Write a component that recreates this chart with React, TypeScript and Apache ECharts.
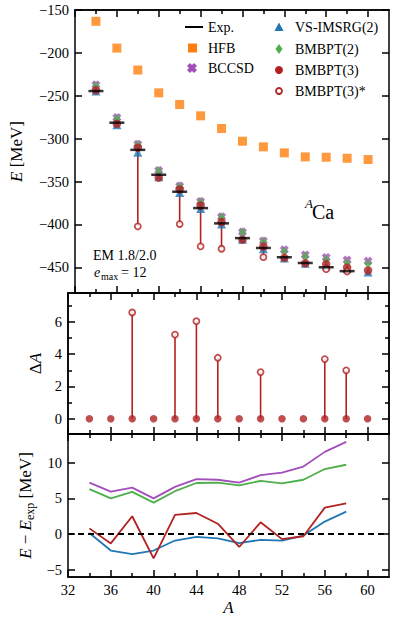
import React, { useEffect, useRef } from 'react';
import * as echarts from 'echarts';

// ---------- data ----------
const massNumbers = [34, 36, 38, 40, 42, 44, 46, 48, 50, 52, 54, 56, 58, 60];
const expEnergy = [-244.5, -281.4, -313.1, -342.1, -361.9, -381.0, -398.8, -416.0, -427.5, -438.3, -445.0, -450.0, -454.5, null];
const hfbEnergy = [-163.2, -194.4, -220.0, -246.6, -260.2, -273.4, -288.2, -303.0, -309.6, -316.6, -321.3, -321.7, -322.9, -324.4];
const bccsdEnergy = [-237.3, -275.45, -306.6, -337.1, -355.3, -373.3, -391.2, -408.8, -419.25, -429.7, -435.55, -438.5, -441.6, -442.8];
const vsImsrg2Energy = [-244.35, -283.7, -315.9, -344.4, -362.8, -381.4, -399.4, -417.25, -428.3, -439.2, -445.2, -448.25, -451.35, -455.5];
const bmbpt2Energy = [-238.2, -276.4, -307.2, -337.7, -355.9, -373.85, -391.6, -409.2, -420.05, -431.2, -437.4, -440.9, -444.8, -445.9];
const bmbpt3Energy = [-243.7, -282.7, -310.6, -345.5, -359.2, -378.05, -397.35, -417.8, -425.85, -439.0, -445.3, -446.3, -450.2, -453.7];
const bmbpt3StarEnergy = [null, null, -402.3, null, -399.6, -425.6, -428.4, null, -438.2, null, null, -452.2, -454.9, null];
const deltaA3 = [0, 0, 0, 0, 0, 0, 0, 0, 0, 0, 0, 0, 0, 0];
const deltaA3Star = [null, null, 6.59, null, 5.22, 6.05, 3.78, null, 2.89, null, null, 3.70, 3.0, null];

const xMajorTicks = [32, 36, 40, 44, 48, 52, 56, 60];
const xMinorTicks = [34, 38, 42, 46, 50, 54, 58];
const eTicks = [-450, -400, -350, -300, -250, -200, -150];
const dAMajorTicks = [0, 2, 4, 6];
const dAMinorTicks = [1, 3, 5, 7];
const diffTicks = [-5, 0, 5, 10];

// ---------- style ----------
const FONT = 'Liberation Serif, DejaVu Serif, serif';
const LW = 1.5;
const ORANGE = '#ff7f0e';
const BLUE = '#1f77b4';
const GREEN = '#4daf4a';
const PURPLE = '#a24fba';
const RED = '#b22222';
const X_PATH = 'path://M3,0 L5,2 L7,0 L10,3 L8,5 L10,7 L7,10 L5,8 L3,10 L0,7 L2,5 L0,3 Z';

const fmt = (v: number) => `{t|${v < 0 ? '\u2212' + Math.abs(v) : String(v)}}`;
const tickRich = { t: { fontFamily: FONT, fontSize: 14.5, color: '#000' } };

function xAx(grid: number, pos: string, values: number[], len: number, label: boolean, extra: any = {}) {
  return {
    type: 'value', gridIndex: grid, position: pos, min: 32, max: 62,
    axisLine: { show: true, onZero: false, lineStyle: { color: '#000', width: LW } },
    axisTick: { show: true, inside: true, length: len, customValues: values, lineStyle: { color: '#000', width: LW } },
    axisLabel: { show: label, customValues: values, formatter: fmt, rich: tickRich, color: '#000', fontFamily: FONT, fontSize: 14.5, margin: 5 },
    splitLine: { show: false },
    ...extra,
  };
}

function yAx(grid: number, pos: string, min: number, max: number, values: number[], len: number, label: boolean, extra: any = {}) {
  return {
    type: 'value', gridIndex: grid, position: pos, min, max,
    axisLine: { show: true, onZero: false, lineStyle: { color: '#000', width: LW } },
    axisTick: { show: true, inside: true, length: len, customValues: values, lineStyle: { color: '#000', width: LW } },
    axisLabel: { show: label, customValues: values, formatter: fmt, rich: tickRich, color: '#000', fontFamily: FONT, fontSize: 14.5, margin: 6, showMinLabel: true, showMaxLabel: true },
    splitLine: { show: false },
    ...extra,
  };
}

const pairs = (ys: (number | null)[]) =>
  massNumbers.map((a, i) => (ys[i] == null ? null : [a, ys[i]])).filter((p) => p !== null);

const diffs = (ys: (number | null)[]) =>
  massNumbers
    .map((a, i) => (expEnergy[i] == null || ys[i] == null ? null : [a, (ys[i] as number) - (expEnergy[i] as number)]))
    .filter((p) => p !== null);

const stemData = (base: (number | null)[], tip: (number | null)[]) =>
  massNumbers.map((a, i) => (tip[i] == null || base[i] == null ? null : [a, base[i], tip[i]])).filter((p) => p !== null);

const stemRender = (params: any, api: any) => {
  const p1 = api.coord([api.value(0), api.value(1)]);
  const p2 = api.coord([api.value(0), api.value(2)]);
  return { type: 'line', shape: { x1: p1[0], y1: p1[1], x2: p2[0], y2: p2[1] }, style: { stroke: RED, lineWidth: 1.6 } };
};

const nameStyle = (rich: any) => ({ color: '#000', fontFamily: FONT, fontSize: 17, rich });
const richBase = {
  i: { fontFamily: FONT, fontSize: 17, fontStyle: 'italic', color: '#000' },
  n: { fontFamily: FONT, fontSize: 17, color: '#000' },
  sub: { fontFamily: FONT, fontSize: 12, color: '#000', padding: [9, 0, 0, 0] },
};

const legendText = (x: number, y: number, t: string) => ({
  type: 'text', x, y,
  style: { text: t, fill: '#000', font: `14px ${FONT}`, verticalAlign: 'middle' },
});

function buildOption() {
  const xAxis = [] as any[];
  for (let g = 0; g < 3; g++) {
    xAxis.push(
      xAx(g, 'bottom', xMajorTicks, 7, g === 2, g === 2 ? {
        name: '{i|A}', nameLocation: 'middle', nameGap: 22, nameTextStyle: nameStyle(richBase),
      } : {}),
    );
    xAxis.push(xAx(g, 'bottom', xMinorTicks, 4, false));
    xAxis.push(xAx(g, 'top', xMajorTicks, 7, false));
    xAxis.push(xAx(g, 'top', xMinorTicks, 4, false));
  }
  const yAxis = [
    yAx(0, 'left', -480, -150, eTicks, 7, true, {
      name: '{i|E} [MeV]', nameLocation: 'middle', nameRotate: 90, nameGap: 50, nameTextStyle: nameStyle(richBase),
    }),
    yAx(0, 'right', -480, -150, eTicks, 7, false),
    yAx(1, 'left', -0.95, 7.8, dAMajorTicks, 7, true, {
      name: '{n|\u0394}{i|A}', nameLocation: 'middle', nameRotate: 90, nameGap: 22, nameTextStyle: nameStyle(richBase),
    }),
    yAx(1, 'right', -0.95, 7.8, dAMajorTicks, 7, false),
    yAx(1, 'left', -0.95, 7.8, dAMinorTicks, 4, false),
    yAx(1, 'right', -0.95, 7.8, dAMinorTicks, 4, false),
    yAx(2, 'left', -6, 14, diffTicks, 7, true, {
      name: '{i|E} \u2212 {i|E}{sub|exp} [MeV]', nameLocation: 'middle', nameRotate: 90, nameGap: 31, nameTextStyle: nameStyle(richBase),
    }),
    yAx(2, 'right', -6, 14, diffTicks, 7, false),
  ];

  const lineSeries = (name: string, ys: (number | null)[], color: string) => ({
    name, type: 'line', xAxisIndex: 8, yAxisIndex: 6, data: diffs(ys), showSymbol: false, symbol: 'none',
    lineStyle: { color, width: 1.8 }, itemStyle: { color },
  });

  const series = [
    // top panel
    { type: 'custom', xAxisIndex: 0, yAxisIndex: 0, data: stemData(bmbpt3Energy, bmbpt3StarEnergy), renderItem: stemRender, encode: { x: 0, y: [1, 2] }, z: 1 },
    { name: 'HFB', type: 'scatter', xAxisIndex: 0, yAxisIndex: 0, data: pairs(hfbEnergy), symbol: 'rect', symbolSize: 9, itemStyle: { color: ORANGE } },
    { name: 'VS-IMSRG(2)', type: 'scatter', xAxisIndex: 0, yAxisIndex: 0, data: pairs(vsImsrg2Energy), symbol: 'triangle', symbolSize: 9, itemStyle: { color: BLUE } },
    { name: 'BCCSD', type: 'scatter', xAxisIndex: 0, yAxisIndex: 0, data: pairs(bccsdEnergy), symbol: X_PATH, symbolSize: 9, itemStyle: { color: PURPLE } },
    { name: 'BMBPT(2)', type: 'scatter', xAxisIndex: 0, yAxisIndex: 0, data: pairs(bmbpt2Energy), symbol: 'diamond', symbolSize: [7, 10], itemStyle: { color: GREEN } },
    { name: 'BMBPT(3)', type: 'scatter', xAxisIndex: 0, yAxisIndex: 0, data: pairs(bmbpt3Energy), symbol: 'circle', symbolSize: 8.5, itemStyle: { color: RED } },
    { name: 'BMBPT(3)*', type: 'scatter', xAxisIndex: 0, yAxisIndex: 0, data: pairs(bmbpt3StarEnergy), symbol: 'circle', symbolSize: 6, itemStyle: { color: '#fff', borderColor: RED, borderWidth: 1.8 } },
    { name: 'Exp.', type: 'scatter', xAxisIndex: 0, yAxisIndex: 0, data: pairs(expEnergy), symbol: 'rect', symbolSize: [15, 2.5], itemStyle: { color: '#000' } },
    // middle panel
    { type: 'custom', xAxisIndex: 4, yAxisIndex: 2, data: stemData(deltaA3, deltaA3Star), renderItem: stemRender, encode: { x: 0, y: [1, 2] }, z: 1 },
    { name: '\u0394A BMBPT(3)', type: 'scatter', xAxisIndex: 4, yAxisIndex: 2, data: pairs(deltaA3), symbol: 'circle', symbolSize: 7.5, itemStyle: { color: RED } },
    { name: '\u0394A BMBPT(3)*', type: 'scatter', xAxisIndex: 4, yAxisIndex: 2, data: pairs(deltaA3Star), symbol: 'circle', symbolSize: 6, itemStyle: { color: '#fff', borderColor: RED, borderWidth: 1.8 } },
    // bottom panel
    {
      ...lineSeries('dVS', vsImsrg2Energy, BLUE),
      markLine: {
        silent: true, symbol: 'none', label: { show: false },
        lineStyle: { color: '#000', type: [6, 4], width: 1.8 },
        data: [{ yAxis: 0 }],
      },
    },
    lineSeries('dBMBPT2', bmbpt2Energy, GREEN),
    lineSeries('dBCCSD', bccsdEnergy, PURPLE),
    lineSeries('dBMBPT3', bmbpt3Energy, RED),
  ];

  const graphic = [
    // legend column 1
    { type: 'line', shape: { x1: 185, y1: 27, x2: 203, y2: 27 }, style: { stroke: '#000', lineWidth: 2 } },
    legendText(208, 27, 'Exp.'),
    { type: 'rect', shape: { x: 188, y: 43.5, width: 9, height: 9 }, style: { fill: ORANGE } },
    legendText(208, 48, 'HFB'),
    { type: 'polygon', shape: { points: [[190, 63], [192, 65], [194, 63], [197, 66], [195, 68], [197, 70], [194, 73], [192, 71], [190, 73], [187, 70], [189, 68], [187, 66]] }, style: { fill: PURPLE } },
    legendText(208, 68, 'BCCSD'),
    // legend column 2
    { type: 'polygon', shape: { points: [[279, 22.5], [283.5, 31], [274.5, 31]] }, style: { fill: BLUE } },
    legendText(295, 27, 'VS-IMSRG(2)'),
    { type: 'polygon', shape: { points: [[279, 44], [282.5, 49], [279, 54], [275.5, 49]] }, style: { fill: GREEN } },
    legendText(295, 49, 'BMBPT(2)'),
    { type: 'circle', shape: { cx: 279, cy: 70, r: 4 }, style: { fill: RED } },
    legendText(295, 70, 'BMBPT(3)'),
    { type: 'circle', shape: { cx: 279, cy: 91, r: 3 }, style: { fill: '#fff', stroke: RED, lineWidth: 1.8 } },
    legendText(295, 91, 'BMBPT(3)*'),
    // annotations
    { type: 'text', x: 305, y: 203, style: { text: 'A', fill: '#000', font: `italic 13px ${FONT}`, verticalAlign: 'middle' } },
    { type: 'text', x: 312, y: 212, style: { text: 'Ca', fill: '#000', font: `20px ${FONT}`, verticalAlign: 'middle' } },
    { type: 'text', x: 93, y: 255, style: { text: 'EM 1.8/2.0', fill: '#000', font: `14px ${FONT}`, verticalAlign: 'middle' } },
    { type: 'text', x: 94, y: 272, style: { text: 'e', fill: '#000', font: `italic 14px ${FONT}`, verticalAlign: 'middle' } },
    { type: 'text', x: 101, y: 276, style: { text: 'max', fill: '#000', font: `10px ${FONT}`, verticalAlign: 'middle' } },
    { type: 'text', x: 121, y: 272, style: { text: '= 12', fill: '#000', font: `14px ${FONT}`, verticalAlign: 'middle' } },
  ];

  return {
    animation: false,
    backgroundColor: '#fff',
    textStyle: { fontFamily: FONT },
    grid: [
      { left: 68, width: 321, top: 10, height: 283 },
      { left: 68, width: 321, top: 293, height: 141 },
      { left: 68, width: 321, top: 434, height: 143 },
    ],
    xAxis,
    yAxis,
    series,
    graphic,
  };
}

export default function App() {
  const ref = useRef<HTMLDivElement>(null);
  useEffect(() => {
    const chart = echarts.init(ref.current as HTMLDivElement, null, { renderer: 'svg' });
    chart.setOption(buildOption() as any);
    return () => chart.dispose();
  }, []);
  return <div ref={ref} style={{ position: 'fixed', left: 0, top: 0, width: 394, height: 623, background: '#fff' }} />;
}
